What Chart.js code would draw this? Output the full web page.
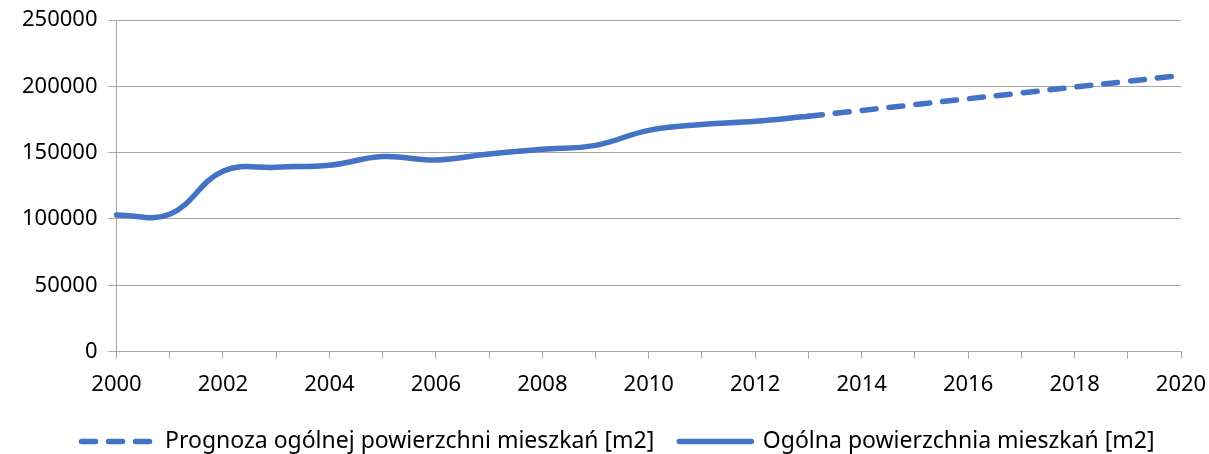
<!DOCTYPE html>
<html>
<head>
<meta charset="utf-8">
<script src="https://cdn.jsdelivr.net/npm/chart.js@4/dist/chart.umd.min.js"></script>
<style>
  html, body { margin: 0; padding: 0; background: #fff; }
  #wrap { width: 1209px; height: 454px; }
</style>
</head>
<body>
<div id="wrap"><canvas id="myChart"></canvas></div>
<script>
var years = ['2000', '2001', '2002', '2003', '2004', '2005', '2006', '2007', '2008', '2009', '2010',
             '2011', '2012', '2013', '2014', '2015', '2016', '2017', '2018', '2019', '2020'];

// actual total floor area, 2000-2013
var actual = [103000, 103500, 136000, 139000, 140500, 147000, 144500, 149000, 152500, 155500, 166800,
              171200, 173600, 177400, null, null, null, null, null, null, null];

// forecast 2013-2020
var forecast = [null, null, null, null, null, null, null, null, null, null, null,
                null, null, 177400, 181800, 186200, 190600, 195000, 199400, 203800, 208200];

var blue = '#4472C4';
var gridGray = '#a6a6a6';
var dash = [14, 13];

Chart.defaults.font.family = "'Noto Sans', sans-serif";
Chart.defaults.font.size = 22;
Chart.defaults.color = '#000';

var ctx = document.getElementById('myChart').getContext('2d');
var chart = new Chart(ctx, {
    type: 'line',
    data: {
        labels: years,
        datasets: [{
            label: 'Prognoza ogólnej powierzchni mieszkań [m2]',
            data: forecast,
            borderColor: blue,
            backgroundColor: blue,
            borderWidth: 5.5,
            borderDash: dash,
            borderCapStyle: 'round',
            pointRadius: 0,
            tension: 0.4
        },
        {
            label: 'Ogólna powierzchnia mieszkań [m2]',
            data: actual,
            borderColor: blue,
            backgroundColor: blue,
            borderWidth: 5.5,
            borderCapStyle: 'round',
            pointRadius: 0,
            tension: 0.4
        }]
    },
    options: {
        responsive: true,
        maintainAspectRatio: false,
        animation: false,
        layout: { padding: { left: 19, right: -8, top: 0, bottom: -9 } },
        plugins: {
            tooltip: { enabled: false },
            legend: {
                position: 'bottom',
                labels: {
                    usePointStyle: true,
                    pointStyle: 'line',
                    pointStyleWidth: 72,
                    padding: 25,
                    font: { size: 23 },
                    generateLabels: function (c) {
                        var items = Chart.defaults.plugins.legend.labels.generateLabels(c);
                        items.forEach(function (it) {
                            var ds = c.data.datasets[it.datasetIndex];
                            it.lineDash = ds.borderDash || [];
                            it.lineWidth = 5.5;
                            it.lineCap = 'round';
                            it.strokeStyle = blue;
                        });
                        return items;
                    }
                }
            }
        },
        scales: {
            x: {
                offset: false,
                border: { color: gridGray, width: 1 },
                grid: { drawOnChartArea: false, drawTicks: true, tickLength: 7, color: gridGray },
                ticks: {
                    autoSkip: false,
                    maxRotation: 0,
                    padding: 13,
                    callback: function (val, i) { return i % 2 === 0 ? years[i] : ''; }
                },
                afterFit: function (s) {
                    s.height -= 6;
                    s.paddingRight = 28;
                }
            },
            y: {
                min: 0,
                max: 250000,
                border: { color: gridGray, width: 1 },
                grid: { color: gridGray, tickLength: 8 },
                ticks: {
                    stepSize: 50000,
                    padding: 11,
                    callback: function (v) { return String(v); }
                },
                afterFit: function (s) {
                    s.width -= 8;
                    s.paddingTop = 20;
                }
            }
        }
    }
});
</script>
</body>
</html>
